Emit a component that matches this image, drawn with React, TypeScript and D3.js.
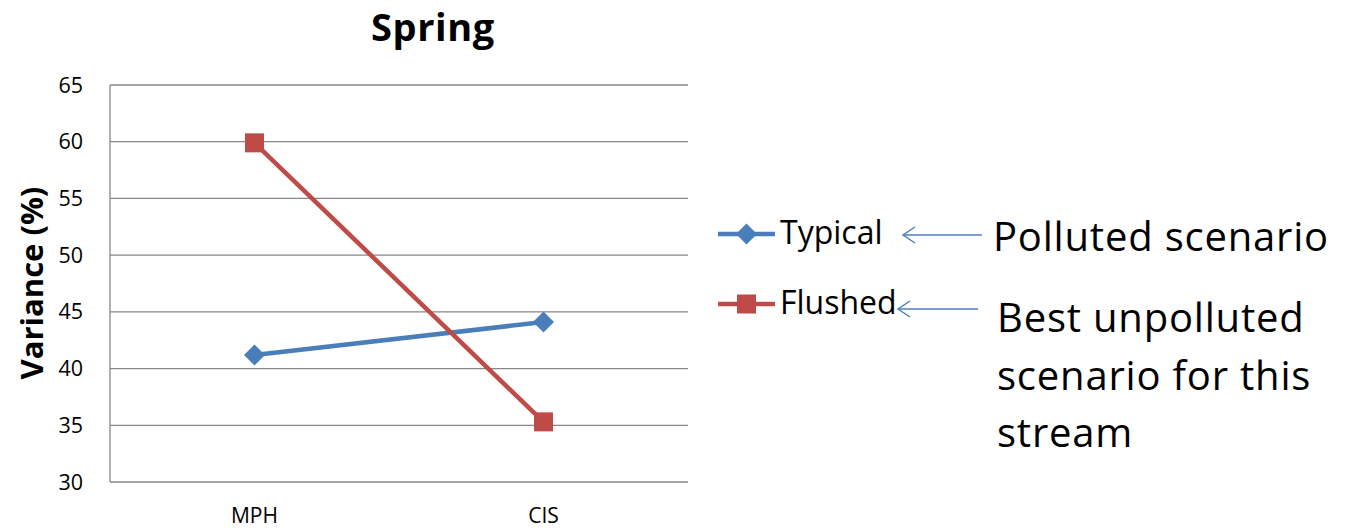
import React from "react";
import * as d3 from "d3";

const categories = ["MPH", "CIS"];
const typical = [41.2, 44.1];
const flushed = [59.9, 35.3];
const yTicks = [30, 35, 40, 45, 50, 55, 60, 65];
const seriesNames = ["Typical", "Flushed"];
const annotation1 = ["Polluted scenario"];
const annotation2 = ["Best unpolluted", "scenario for this", "stream"];

const W = 1348;
const H = 532;
const FONT = "'Open Sans', sans-serif";
const BLUE = "#4A7EBB";
const RED = "#BE4B48";
const ARROW = "#4F81BD";

export default function App() {
  const left = 110, right = 688, top = 85, bottom = 482;
  const x = d3.scalePoint<string>().domain(categories).range([left, right]).padding(0.5);
  const y = d3.scaleLinear().domain([30, 65]).range([bottom, top]);
  const line = d3.line<number>().x((_, i) => x(categories[i])!).y((d) => y(d));

  const diamond = (cx: number, cy: number, r: number) =>
    `M${cx},${cy - r}L${cx + r},${cy}L${cx},${cy + r}L${cx - r},${cy}Z`;

  return (
    <svg width={W} height={H} style={{ position: "absolute", left: 0, top: 0, background: "#fff" }}>
      <rect width={W} height={H} fill="#fff" />
      <text x={433} y={40.5} textAnchor="middle" fontFamily={FONT} fontWeight="bold" fontSize={38} letterSpacing={0.6}>Spring</text>
      {yTicks.map((t) => (
        <g key={t}>
          <line x1={left} x2={right} y1={y(t)} y2={y(t)} stroke="#878787" strokeWidth={1.3} />
          <text x={83} y={y(t) + 7.5} textAnchor="end" fontFamily={FONT} fontSize={21.5}>{t}</text>
        </g>
      ))}
      <line x1={left} x2={left} y1={top} y2={bottom} stroke="#878787" strokeWidth={1.3} />
      {categories.map((c) => (
        <text key={c} x={x(c)} y={523} textAnchor="middle" fontFamily={FONT} fontSize={21}>{c}</text>
      ))}
      <text transform={`translate(43,283) rotate(-90)`} textAnchor="middle" fontFamily={FONT} fontWeight="bold" fontSize={31}>Variance (%)</text>

      <path d={line(typical)!} fill="none" stroke={BLUE} strokeWidth={4.5} />
      {typical.map((v, i) => (
        <path key={i} d={diamond(x(categories[i])!, y(v), 10.5)} fill={BLUE} />
      ))}
      <path d={line(flushed)!} fill="none" stroke={RED} strokeWidth={4.5} />
      {flushed.map((v, i) => (
        <rect key={i} x={x(categories[i])! - 9.5} y={y(v) - 9.5} width={19} height={19} fill={RED} />
      ))}

      {/* legend */}
      <line x1={718} x2={775} y1={234} y2={234} stroke={BLUE} strokeWidth={4.5} />
      <path d={diamond(746.5, 234, 10.5)} fill={BLUE} />
      <text x={780} y={244} fontFamily={FONT} fontSize={32}>{seriesNames[0]}</text>
      <line x1={718} x2={775} y1={304} y2={304} stroke={RED} strokeWidth={4.5} />
      <rect x={737} y={294.5} width={19} height={19} fill={RED} />
      <text x={780} y={314} fontFamily={FONT} fontSize={32}>{seriesNames[1]}</text>

      {/* arrows */}
      <g stroke={ARROW} strokeWidth={1.5} fill="none">
        <line x1={982} x2={903} y1={235} y2={235} />
        <polyline points="915,227 903,235 915,243" />
        <line x1={978} x2={898} y1={309} y2={309} />
        <polyline points="910,301 898,309 910,317" />
      </g>

      <text x={993} y={251} fontFamily={FONT} fontSize={40} letterSpacing={0.8}>{annotation1[0]}</text>
      {annotation2.map((t, i) => (
        <text key={i} x={997} y={332 + i * 57.5} fontFamily={FONT} fontSize={40} letterSpacing={0.8}>{t}</text>
      ))}
    </svg>
  );
}
